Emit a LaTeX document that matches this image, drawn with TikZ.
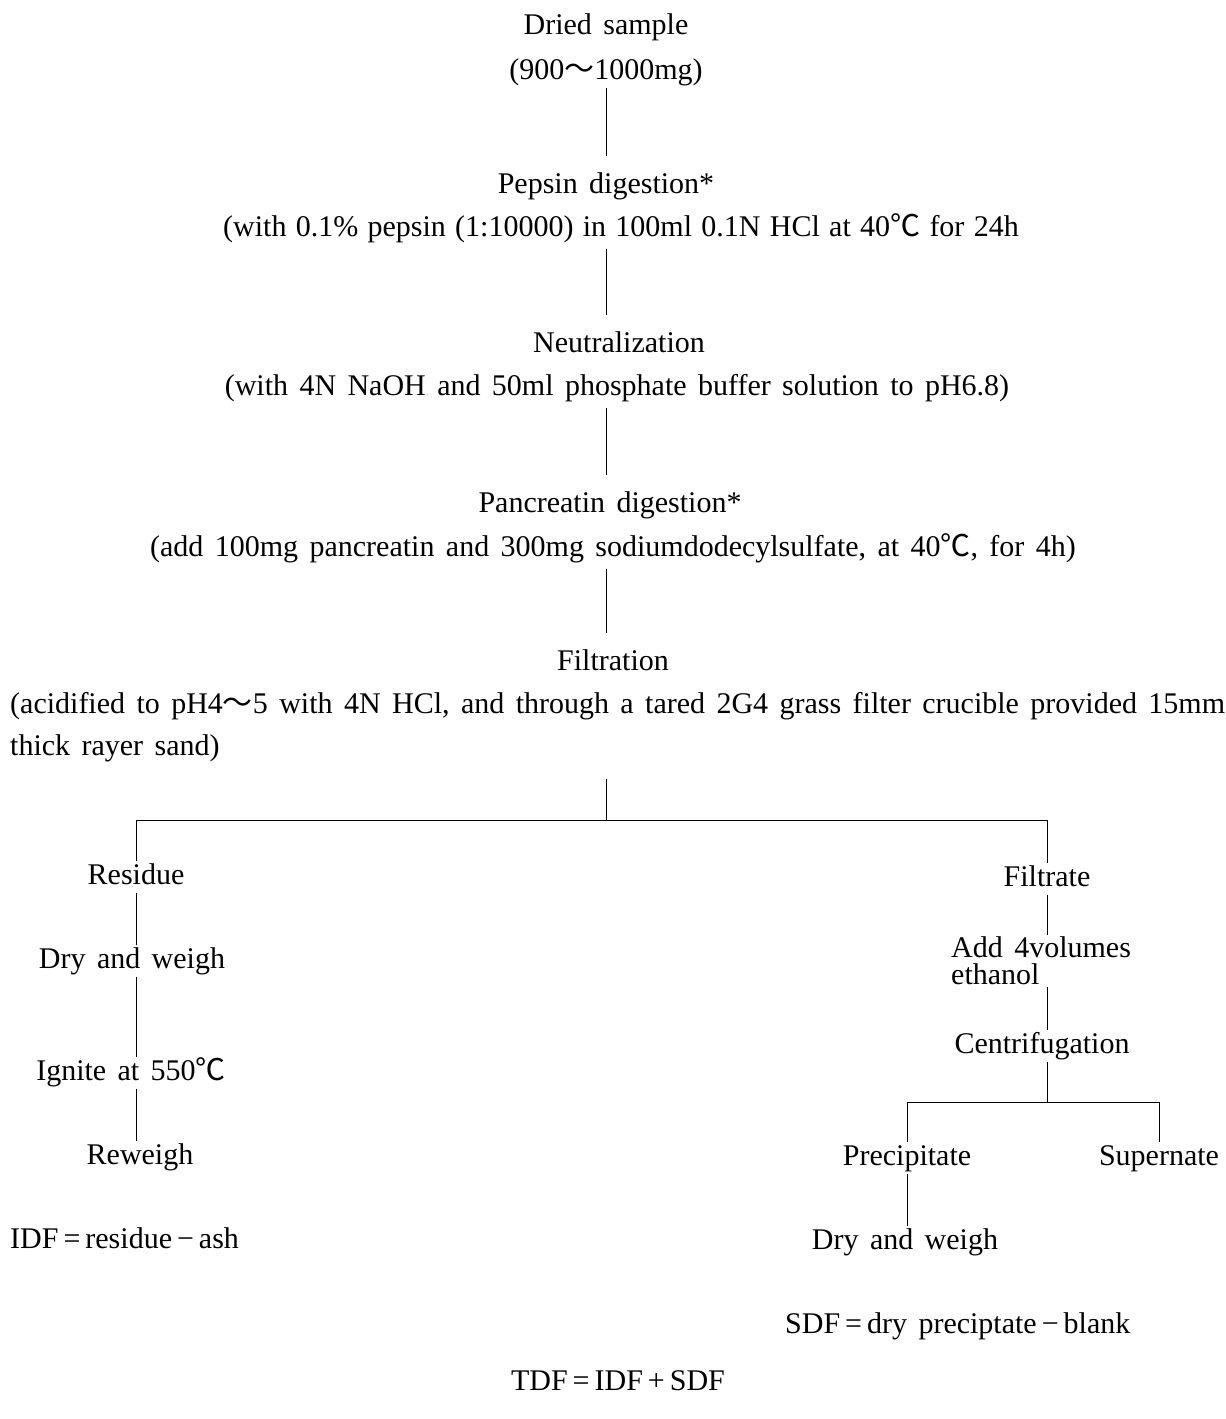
\documentclass[tikz,border=0pt]{standalone}
\usepackage{fontspec}
\setmainfont{Liberation Serif}
\newfontfamily\cjk{Noto Sans CJK SC}
\newcommand\dgc{{\cjk ℃}}
\newcommand\wave{{\cjk ～}}
\begin{document}
\begin{tikzpicture}[x=1pt,y=-1pt,
  tx/.style={font=\fontsize{30}{27}\selectfont, execute at begin node={\spaceskip=0.38em\relax}, inner sep=2pt, text height=21pt, text depth=6pt},
  tight/.style={execute at begin node={\spaceskip=0.31em\relax}},
  multi/.style={font=\fontsize{30}{27}\selectfont, execute at begin node={\spaceskip=0.38em\relax}, inner sep=2pt, align=left},
  conn/.style={line width=1pt, draw=black}]
\useasboundingbox[fill=white] (0,0) rectangle (1226,1419);
% main column
\node[tx] (dried) at (606,27) {Dried sample};
\node[tx] (dried2) at (606,72) {(900\wave1000mg)};
\node[tx] (pep) at (606,186) {Pepsin digestion*};
\node[tx,tight] (pep2) at (621,229) {(with 0.1\% pepsin (1:10000) in 100ml 0.1N HCl at 40\dgc\ for 24h};
\node[tx] (neu) at (619,345) {Neutralization};
\node[tx] (neu2) at (617,388) {(with 4N NaOH and 50ml phosphate buffer solution to pH6.8)};
\node[tx] (pan) at (610,505) {Pancreatin digestion*};
\node[tx] (pan2) at (613,549) {(add 100mg pancreatin and 300mg sodiumdodecylsulfate, at 40\dgc, for 4h)};
\node[tx] (filtr) at (613,663) {Filtration};
\node[tx,anchor=west] (filt2) at (8,706) {(acidified to pH4\wave5 with 4N HCl, and through a tared 2G4 grass filter crucible provided 15mm};
\node[tx,anchor=west] (filt3) at (8,748) {thick rayer sand)};
\coordinate (split) at (606,820);
% left branch
\node[tx] (resid) at (136,877) {Residue};
\node[tx] (dry1) at (132,961) {Dry and weigh};
\node[tx] (ign) at (131,1073) {Ignite at 550\dgc};
\node[tx] (rew) at (140,1157) {Reweigh};
\node[tx,anchor=west] (idf) at (8,1241) {IDF\,=\,residue\,−\,ash};
% right branch
\node[tx] (filtrate) at (1047,879) {Filtrate};
\node[multi,anchor=west] (addn) at (949,961) {Add 4volumes\\ethanol};
\node[tx] (centr) at (1042,1046) {Centrifugation};
\coordinate (split2) at (1047,1102);
\node[tx] (prec) at (907,1158) {Precipitate};
\node[tx] (super) at (1159,1158) {Supernate};
\node[tx] (dry2) at (905,1242) {Dry and weigh};
\node[tx,anchor=west] (sdf) at (783,1326) {SDF\,=\,dry preciptate\,−\,blank};
\node[tx] (tdf) at (618,1383) {TDF\,=\,IDF\,+\,SDF};
% connectors
\draw[conn, shorten >=14pt] (dried2.south) -- (pep.north);
\draw[conn, shorten <=4pt, shorten >=14pt] (pep2.south -| dried2) -- (neu.north -| dried2);
\draw[conn, shorten <=4pt, shorten >=14pt] (neu2.south -| dried2) -- (pan.north -| dried2);
\draw[conn, shorten <=4pt, shorten >=14pt] (pan2.south -| dried2) -- (filtr.north -| dried2);
\draw[conn, shorten <=15pt] (filt3.south -| dried2) -- (split);
\draw[conn] (resid.north) |- (split) -| (filtrate.north);
\draw[conn] (resid.south) -- (dry1.north -| resid);
\draw[conn] (dry1.south -| resid) -- (ign.north -| resid);
\draw[conn] (ign.south -| resid) -- (rew.north -| resid);
\draw[conn] (filtrate.south) -- (addn.north -| filtrate);
\draw[conn] (addn.south -| filtrate) -- (centr.north -| filtrate);
\draw[conn] (centr.south -| filtrate) -- (split2);
\draw[conn] (prec.north) |- (split2) -| (super.north);
\draw[conn] (prec.south) -- (dry2.north -| prec);
\end{tikzpicture}
\end{document}
